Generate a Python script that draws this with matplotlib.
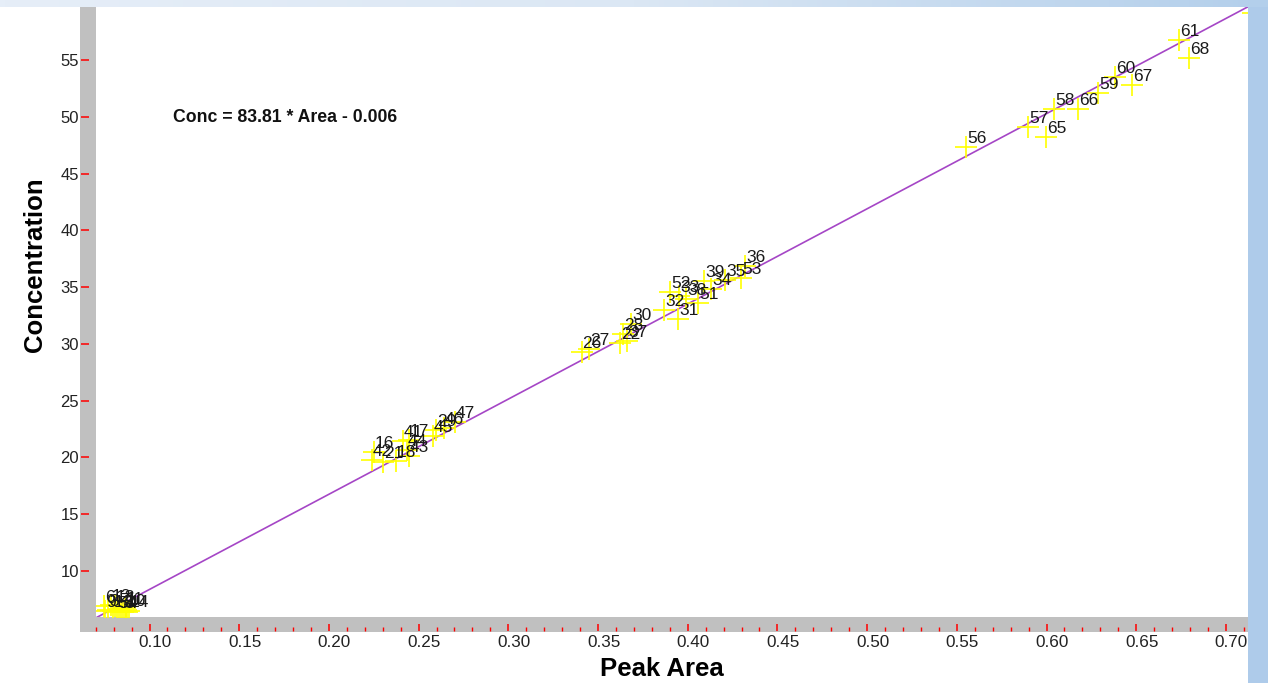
import numpy as np
import matplotlib.pyplot as plt
import matplotlib.transforms as mtransforms
from matplotlib.patches import Rectangle
from matplotlib.ticker import MultipleLocator, FormatStrFormatter
from matplotlib.colors import LinearSegmentedColormap

plt.rcParams['font.family'] = ['Liberation Sans', 'DejaVu Sans']

# calibration samples: id, peak area, concentration
sample_ids = [6, 9, 3, 12, 1, 13, 5, 7, 2, 8, 11, 10, 4, 14,
              16, 42, 21, 18, 41, 17, 44, 43, 45, 29, 46, 47,
              26, 27, 28, 22, 37, 30, 32, 31, 52, 33, 38, 51, 39, 34, 35, 53, 36,
              56, 57, 65, 58, 66, 59, 60, 67, 61, 68, 62]
peak_area = [0.0746, 0.0752, 0.0769, 0.0785, 0.0797, 0.0808, 0.0819, 0.0830,
             0.0841, 0.0853, 0.0864, 0.0869, 0.0875, 0.0886,
             0.2251, 0.2240, 0.2301, 0.2373, 0.2412, 0.2446, 0.2435, 0.2446,
             0.2580, 0.2596, 0.2641, 0.2703,
             0.3408, 0.3450, 0.3639, 0.3623, 0.3662, 0.3684, 0.3868, 0.3946,
             0.3901, 0.3951, 0.3990, 0.4057, 0.4091, 0.4130, 0.4208, 0.4297, 0.4319,
             0.5551, 0.5897, 0.5997, 0.6042, 0.6176, 0.6287, 0.6382, 0.6477,
             0.6739, 0.6795, 0.7151]
concentration = [6.94, 6.50, 6.58, 7.02, 6.50, 6.94, 6.41, 6.67, 6.50, 6.41,
                 6.76, 6.58, 6.41, 6.50,
                 20.49, 19.79, 19.61, 19.70, 21.46, 21.55, 20.67, 20.14,
                 21.90, 22.43, 22.61, 23.13,
                 29.30, 29.56, 30.88, 30.09, 30.27, 31.76, 32.99, 32.20,
                 34.58, 34.23, 33.96, 33.61, 35.55, 34.84, 35.63, 35.81, 36.87,
                 47.34, 49.10, 48.18, 50.69, 50.69, 52.10, 53.50, 52.84,
                 56.76, 55.21, 59.14]

# linear fit coefficients
slope = 83.81
intercept = -0.006

x_lo, x_hi = 0.0699, 0.7123
y_lo, y_hi = 5.92, 59.67

W, H = 1268, 683
fig = plt.figure(figsize=(W / 100, H / 100), dpi=100)
fig.patch.set_facecolor('white')


def fx(px):
    return px / W


def fy(py):
    return 1 - py / H


# window frame: pale blue band on top and right
band = fig.add_axes([0, fy(7), 1, 7 / H])
grad = np.linspace(0, 1, 256).reshape(1, -1)
band.imshow(grad, aspect='auto',
            cmap=LinearSegmentedColormap.from_list('frame', ['#e6eef8', '#dbe7f4', '#b3cfeb']))
band.axis('off')
fig.add_artist(Rectangle((fx(1248), 0), 20 / W, fy(7), transform=fig.transFigure,
                         facecolor='#aecbea', edgecolor='none', zorder=5))

# grey axis strips
fig.add_artist(Rectangle((fx(80), fy(632)), 15.5 / W, (632 - 7) / H, transform=fig.transFigure,
                         facecolor='#c0c0c0', edgecolor='none', zorder=-1))
fig.add_artist(Rectangle((fx(80), fy(632)), (1248 - 80) / W, (632 - 617.3) / H,
                         transform=fig.transFigure, facecolor='#c0c0c0', edgecolor='none', zorder=-1))

ax = fig.add_axes([fx(95.5), fy(617.3), (1248 - 95.5) / W, (617.3 - 7) / H])
ax.set_facecolor('white')
for s in ax.spines.values():
    s.set_visible(False)
ax.spines['left'].set_position(('outward', 14.5 * 0.72))
ax.spines['bottom'].set_position(('outward', 13.2 * 0.72))

ax.set_xlim(x_lo, x_hi)
ax.set_ylim(y_lo, y_hi)

# fit line across the whole range
xl = np.array([x_lo, x_hi])
ax.plot(xl, slope * xl + intercept, color='#a546c6', lw=1.2, zorder=2)

ax.plot(peak_area, concentration, linestyle='none', marker='+', ms=16, mew=1.2,
        color='#ffff00', zorder=3)
for sid, a, c in zip(sample_ids, peak_area, concentration):
    ax.annotate(str(sid), (a, c), xytext=(0.7, 2.9), textcoords='offset points',
                ha='left', va='baseline', fontsize=12.5, color='#1a1a1a', zorder=4)

ax.xaxis.set_major_locator(MultipleLocator(0.05))
ax.xaxis.set_minor_locator(MultipleLocator(0.01))
ax.xaxis.set_major_formatter(FormatStrFormatter('%.2f'))
ax.yaxis.set_major_locator(MultipleLocator(5))
ax.yaxis.set_major_formatter(FormatStrFormatter('%d'))

ax.tick_params(axis='x', which='major', direction='in', length=7 * 0.72, width=1.1,
               color='#ff0000', pad=3.0, labelsize=12.3, labelcolor='#222222')
ax.tick_params(axis='x', which='minor', direction='in', length=4 * 0.72, width=1.0,
               color='#ff0000')
ax.tick_params(axis='y', which='major', direction='in', length=8 * 0.72, width=1.1,
               color='#ff0000', pad=1.5, labelsize=12, labelcolor='#222222')

fig.text(fx(35), fy(265), 'Concentration', rotation=90, ha='center', va='center',
         fontsize=18.5, fontweight='bold', color='black')
fig.text(fx(662), fy(669), 'Peak Area', ha='center', va='center',
         fontsize=18.5, fontweight='bold', color='black')
fig.text(fx(173), fy(122), f'Conc = {slope:.2f} * Area - {abs(intercept):.3f}',
         ha='left', va='baseline', fontsize=12.7, fontweight='bold', color='#111111')

fig.canvas.draw()
shift = mtransforms.ScaledTranslation(5.5 / 100, 0, fig.dpi_scale_trans)
for lab in ax.get_xticklabels():
    lab.set_transform(lab.get_transform() + shift)

fig.savefig('out.png', dpi=100)
